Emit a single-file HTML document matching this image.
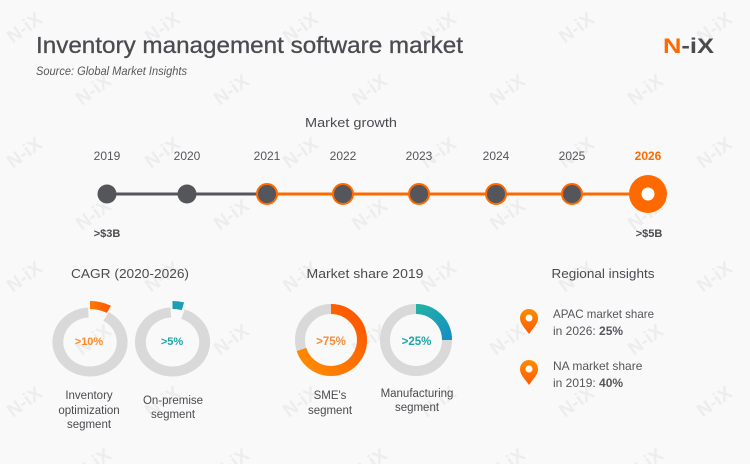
<!DOCTYPE html>
<html><head><meta charset="utf-8"><style>
html,body{margin:0;padding:0;background:#f9f9f9;}
svg{display:block;font-family:"Liberation Sans",sans-serif;}
</style></head><body>
<svg width="750" height="464" viewBox="0 0 750 464" xmlns="http://www.w3.org/2000/svg">
<defs>
<linearGradient id="og" x1="0" y1="1" x2="1" y2="0"><stop offset="0" stop-color="#ff8e00"/><stop offset="1" stop-color="#ff5200"/></linearGradient>
<linearGradient id="og2" x1="0" y1="0" x2="1" y2="0"><stop offset="0" stop-color="#ff7800"/><stop offset="1" stop-color="#ff5a00"/></linearGradient>
<linearGradient id="tg" x1="0" y1="0" x2="1" y2="1"><stop offset="0" stop-color="#22b1a6"/><stop offset="1" stop-color="#168fc2"/></linearGradient>
<linearGradient id="pg" x1="0" y1="0" x2="0" y2="1"><stop offset="0" stop-color="#ff8c00"/><stop offset="1" stop-color="#ff5a00"/></linearGradient>
</defs>
<rect width="750" height="464" fill="#f9f9f9"/>
<g fill="#ededed" font-weight="bold" font-size="19" text-anchor="middle">
<text transform="translate(24,27) rotate(-36)" y="7">N-iX</text>
<text transform="translate(162,27) rotate(-36)" y="7">N-iX</text>
<text transform="translate(300,27) rotate(-36)" y="7">N-iX</text>
<text transform="translate(438,27) rotate(-36)" y="7">N-iX</text>
<text transform="translate(576,27) rotate(-36)" y="7">N-iX</text>
<text transform="translate(714,27) rotate(-36)" y="7">N-iX</text>
<text transform="translate(93,89) rotate(-36)" y="7">N-iX</text>
<text transform="translate(231,89) rotate(-36)" y="7">N-iX</text>
<text transform="translate(369,89) rotate(-36)" y="7">N-iX</text>
<text transform="translate(507,89) rotate(-36)" y="7">N-iX</text>
<text transform="translate(645,89) rotate(-36)" y="7">N-iX</text>
<text transform="translate(24,152) rotate(-36)" y="7">N-iX</text>
<text transform="translate(162,152) rotate(-36)" y="7">N-iX</text>
<text transform="translate(300,152) rotate(-36)" y="7">N-iX</text>
<text transform="translate(438,152) rotate(-36)" y="7">N-iX</text>
<text transform="translate(576,152) rotate(-36)" y="7">N-iX</text>
<text transform="translate(714,152) rotate(-36)" y="7">N-iX</text>
<text transform="translate(93,214) rotate(-36)" y="7">N-iX</text>
<text transform="translate(231,214) rotate(-36)" y="7">N-iX</text>
<text transform="translate(369,214) rotate(-36)" y="7">N-iX</text>
<text transform="translate(507,214) rotate(-36)" y="7">N-iX</text>
<text transform="translate(645,214) rotate(-36)" y="7">N-iX</text>
<text transform="translate(24,276) rotate(-36)" y="7">N-iX</text>
<text transform="translate(162,276) rotate(-36)" y="7">N-iX</text>
<text transform="translate(300,276) rotate(-36)" y="7">N-iX</text>
<text transform="translate(438,276) rotate(-36)" y="7">N-iX</text>
<text transform="translate(576,276) rotate(-36)" y="7">N-iX</text>
<text transform="translate(714,276) rotate(-36)" y="7">N-iX</text>
<text transform="translate(93,339) rotate(-36)" y="7">N-iX</text>
<text transform="translate(231,339) rotate(-36)" y="7">N-iX</text>
<text transform="translate(369,339) rotate(-36)" y="7">N-iX</text>
<text transform="translate(507,339) rotate(-36)" y="7">N-iX</text>
<text transform="translate(645,339) rotate(-36)" y="7">N-iX</text>
<text transform="translate(24,401) rotate(-36)" y="7">N-iX</text>
<text transform="translate(162,401) rotate(-36)" y="7">N-iX</text>
<text transform="translate(300,401) rotate(-36)" y="7">N-iX</text>
<text transform="translate(438,401) rotate(-36)" y="7">N-iX</text>
<text transform="translate(576,401) rotate(-36)" y="7">N-iX</text>
<text transform="translate(714,401) rotate(-36)" y="7">N-iX</text>
<text transform="translate(93,463) rotate(-36)" y="7">N-iX</text>
<text transform="translate(231,463) rotate(-36)" y="7">N-iX</text>
<text transform="translate(369,463) rotate(-36)" y="7">N-iX</text>
<text transform="translate(507,463) rotate(-36)" y="7">N-iX</text>
<text transform="translate(645,463) rotate(-36)" y="7">N-iX</text>
</g>

<!-- header -->
<text x="36" y="53" font-size="23" fill="#4b4b50" textLength="427" lengthAdjust="spacingAndGlyphs" stroke="#4b4b50" stroke-width="0.3">Inventory management software market</text>
<text x="36" y="75" font-size="12" font-style="italic" fill="#58585c" textLength="151" lengthAdjust="spacingAndGlyphs">Source: Global Market Insights</text>
<text x="663" y="53" font-size="21" font-weight="bold" textLength="51" lengthAdjust="spacingAndGlyphs"><tspan fill="#ff6a00">N</tspan><tspan fill="#4b4b50">-iX</tspan></text>

<!-- market growth -->
<text x="351" y="127" font-size="13" fill="#4b4b50" text-anchor="middle" textLength="92" lengthAdjust="spacingAndGlyphs">Market growth</text>
<g font-size="12" fill="#55565b" text-anchor="middle">
<text x="107" y="160">2019</text>
<text x="187" y="160">2020</text>
<text x="267" y="160">2021</text>
<text x="343" y="160">2022</text>
<text x="419" y="160">2023</text>
<text x="496" y="160">2024</text>
<text x="572" y="160">2025</text>
<text x="648" y="160" fill="#ff6a00" font-weight="bold">2026</text>
</g>
<line x1="107" y1="194" x2="267" y2="194" stroke="#55565b" stroke-width="3"/>
<line x1="267" y1="194" x2="648" y2="194" stroke="#ff6a00" stroke-width="3"/>
<circle cx="107" cy="194" r="9.5" fill="#55565b"/>
<circle cx="187" cy="194" r="9.5" fill="#55565b"/>
<g fill="#55565b" stroke="#ff6a00" stroke-width="2">
<circle cx="267" cy="194" r="10"/>
<circle cx="343" cy="194" r="10"/>
<circle cx="419" cy="194" r="10"/>
<circle cx="496" cy="194" r="10"/>
<circle cx="572" cy="194" r="10"/>
</g>
<circle cx="648" cy="194" r="19" fill="#ff6a00"/>
<circle cx="648" cy="194" r="6.5" fill="#ffffff"/>
<g font-size="11" font-weight="bold" fill="#4b4b50" text-anchor="middle">
<text x="107" y="237">&gt;$3B</text>
<text x="649" y="237">&gt;$5B</text>
</g>

<!-- section titles -->
<g font-size="13" fill="#4b4b50" text-anchor="middle">
<text x="130" y="278" textLength="118" lengthAdjust="spacingAndGlyphs">CAGR (2020-2026)</text>
<text x="365" y="278" textLength="117" lengthAdjust="spacingAndGlyphs">Market share 2019</text>
<text x="603" y="278" textLength="103" lengthAdjust="spacingAndGlyphs">Regional insights</text>
</g>

<!-- donut 1 -->
<g transform="translate(90,342) scale(1.09,1)" fill="none">
<path d="M14.75,-25.55 A29.5,29.5 0 1 1 -1.54,-29.46" stroke="#d9d9d9" stroke-width="10"/>
<path d="M0,-37 A37,37 0 0 1 17.37,-32.67" stroke="url(#og2)" stroke-width="8"/>
</g>
<text x="89" y="345" font-size="11" font-weight="bold" fill="#ff8a2a" text-anchor="middle">&gt;10%</text>
<!-- donut 2 -->
<g transform="translate(172.5,342) scale(1.09,1)" fill="none">
<path d="M9.6,-27.9 A29.5,29.5 0 1 1 -1.54,-29.46" stroke="#d9d9d9" stroke-width="10"/>
<path d="M0,-37 A37,37 0 0 1 9.58,-35.74" stroke="#1a9fb4" stroke-width="8"/>
</g>
<text x="172" y="345" font-size="11" font-weight="bold" fill="#1fa5a8" text-anchor="middle">&gt;5%</text>
<!-- donut 3 -->
<g transform="translate(331,340)" fill="none">
<circle r="31" stroke="#d9d9d9" stroke-width="10"/>
<path d="M0,-31 A31,31 0 1 1 -29.48,9.58" stroke="url(#og)" stroke-width="10"/>
</g>
<text x="331" y="345" font-size="11.5" font-weight="bold" fill="#f28c3c" text-anchor="middle">&gt;75%</text>
<!-- donut 4 -->
<g transform="translate(416,340)" fill="none">
<circle r="31" stroke="#d9d9d9" stroke-width="10"/>
<path d="M0,-31 A31,31 0 0 1 31,0" stroke="url(#tg)" stroke-width="10"/>
</g>
<text x="416.5" y="345" font-size="11.5" font-weight="bold" fill="#1fa5a8" text-anchor="middle">&gt;25%</text>

<!-- donut labels -->
<g font-size="11.5" fill="#4b4b50" text-anchor="middle">
<text x="89" y="399">Inventory</text>
<text x="89" y="414">optimization</text>
<text x="89" y="428">segment</text>
<text x="173" y="404">On-premise</text>
<text x="173" y="418">segment</text>
<text x="330" y="399">SME's</text>
<text x="330" y="414">segment</text>
<text x="417" y="397">Manufacturing</text>
<text x="417" y="411">segment</text>
</g>

<!-- regional -->
<path d="M529,334 C525,328 520,324 520,318 A9,9 0 1 1 538,318 C538,324 533,328 529,334 Z" fill="url(#pg)"/>
<circle cx="529" cy="318" r="3.5" fill="#ffffff"/>
<path d="M529,385 C525,379 520,375 520,369 A9,9 0 1 1 538,369 C538,375 533,379 529,385 Z" fill="url(#pg)"/>
<circle cx="529" cy="369" r="3.5" fill="#ffffff"/>
<g font-size="12" fill="#55565b">
<text x="553" y="318" textLength="101" lengthAdjust="spacingAndGlyphs">APAC market share</text>
<text x="553" y="335">in 2026: <tspan font-weight="bold">25%</tspan></text>
<text x="553" y="370">NA market share</text>
<text x="553" y="387">in 2019: <tspan font-weight="bold">40%</tspan></text>
</g>
</svg>
</body></html>
